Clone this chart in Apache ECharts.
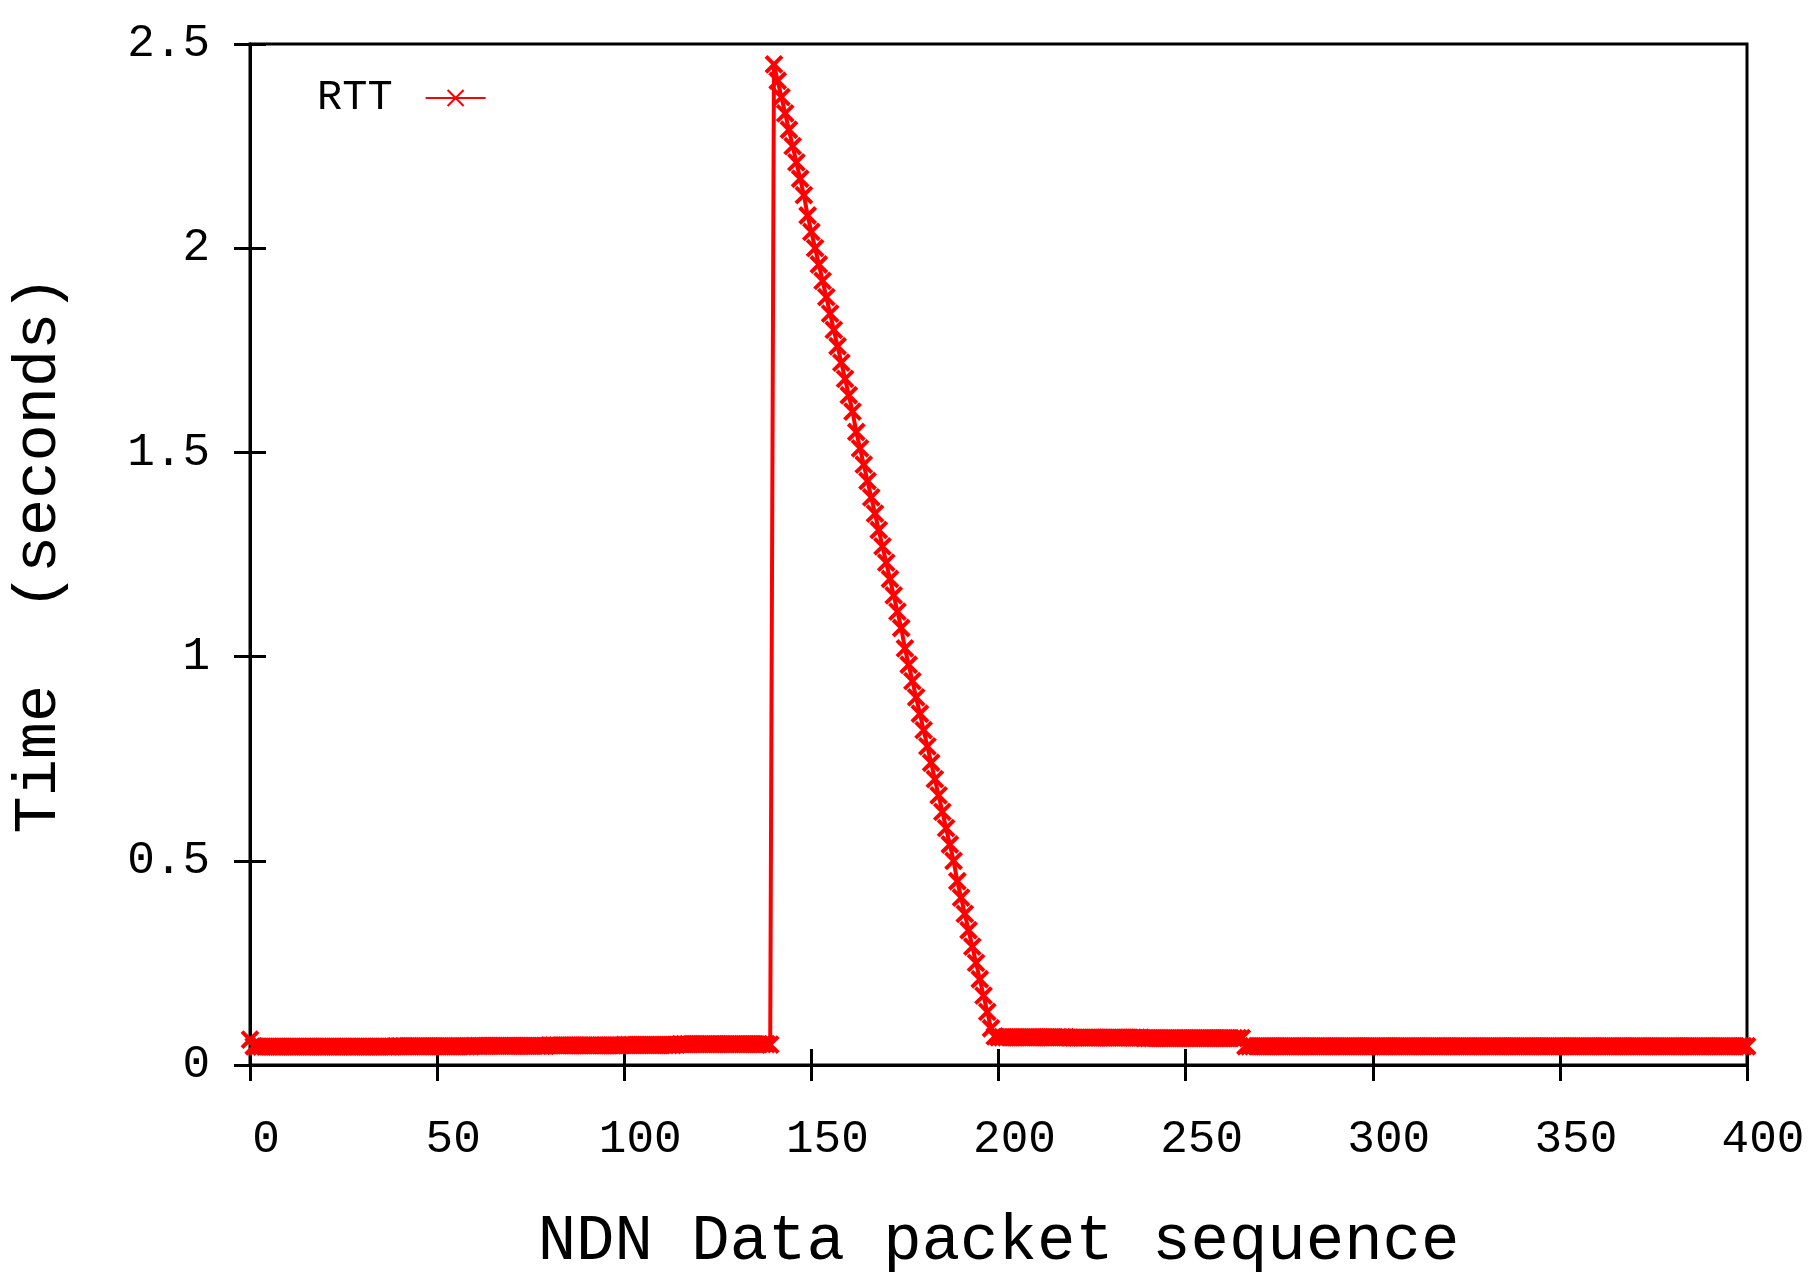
<!DOCTYPE html>
<html><head><meta charset="utf-8">
<script src="https://cdn.jsdelivr.net/npm/echarts@6/dist/echarts.min.js"></script>
<style>html,body{margin:0;background:#fff}#c{width:1815px;height:1280px}</style>
</head><body><div id="c"></div>
<script>
// RTT values (seconds), packet sequence 0..139
const rttBefore = [0.062,0.046,0.045,0.045,0.045,0.045,0.045,0.045,0.045,0.045,
0.045,0.045,0.045,0.045,0.045,0.045,0.045,0.045,0.045,0.045,
0.045,0.045,0.045,0.045,0.045,0.045,0.045,0.045,0.045,0.045,
0.045,0.045,0.045,0.045,0.045,0.045,0.045,0.045,0.045,0.046,
0.046,0.046,0.046,0.046,0.046,0.046,0.046,0.046,0.046,0.046,
0.046,0.046,0.046,0.046,0.046,0.046,0.046,0.046,0.046,0.046,
0.047,0.047,0.047,0.047,0.047,0.047,0.047,0.047,0.047,0.047,
0.047,0.047,0.047,0.047,0.047,0.047,0.047,0.047,0.047,0.047,
0.048,0.048,0.048,0.048,0.048,0.048,0.048,0.048,0.048,0.048,
0.048,0.048,0.048,0.048,0.048,0.048,0.048,0.048,0.048,0.048,
0.049,0.049,0.049,0.049,0.049,0.049,0.049,0.049,0.049,0.049,
0.049,0.049,0.049,0.049,0.050,0.051,0.051,0.051,0.051,0.051,
0.051,0.051,0.051,0.051,0.051,0.051,0.051,0.051,0.051,0.051,
0.051,0.051,0.051,0.051,0.051,0.051,0.051,0.051,0.051,0.050];
// packet sequence 140..198
const rttSpike = [2.45,2.41,2.37,2.33,2.29,2.25,2.21,2.17,2.13,2.08,2.04,2.00,1.96,1.92,1.88,1.84,1.80,1.76,1.72,1.68,
1.64,1.60,1.55,1.51,1.47,1.43,1.39,1.35,1.31,1.27,1.23,1.19,1.15,1.11,1.07,1.02,0.98,0.94,0.90,0.86,
0.82,0.78,0.74,0.70,0.66,0.62,0.58,0.54,0.50,0.45,0.41,0.37,0.33,0.29,0.25,0.21,0.17,0.13,0.09];
// packet sequence 199..265
const rttMid = [0.07,0.068,0.068,0.068,0.068,0.068,0.068,0.068,0.068,0.068,
0.068,0.068,0.068,0.068,0.068,0.068,0.068,0.068,0.068,0.068,
0.067,0.067,0.067,0.067,0.067,0.067,0.067,0.067,0.067,0.067,
0.067,0.067,0.067,0.067,0.067,0.067,0.067,0.067,0.067,0.067,
0.066,0.066,0.066,0.066,0.066,0.066,0.066,0.066,0.066,0.066,
0.066,0.066,0.066,0.066,0.066,0.066,0.066,0.066,0.066,0.066,
0.066,0.066,0.066,0.066,0.066,0.066,0.066];
// packet sequence 266..400
const rttAfter = [0.046,0.046,0.046,0.046,0.046,0.046,0.046,0.046,0.046,0.046,
0.046,0.046,0.046,0.046,0.046,0.046,0.046,0.046,0.046,0.046,
0.046,0.046,0.046,0.046,0.046,0.046,0.046,0.046,0.046,0.046,
0.046,0.046,0.046,0.046,0.046,0.046,0.046,0.046,0.046,0.046,
0.046,0.046,0.046,0.046,0.046,0.046,0.046,0.046,0.046,0.046,
0.046,0.046,0.046,0.046,0.046,0.046,0.046,0.046,0.046,0.046,
0.046,0.046,0.046,0.046,0.046,0.046,0.046,0.046,0.046,0.046,
0.046,0.046,0.046,0.046,0.046,0.046,0.046,0.046,0.046,0.046,
0.046,0.046,0.046,0.046,0.046,0.046,0.046,0.046,0.046,0.046,
0.046,0.046,0.046,0.046,0.046,0.046,0.046,0.046,0.046,0.046,
0.046,0.046,0.046,0.046,0.046,0.046,0.046,0.046,0.046,0.046,
0.046,0.046,0.046,0.046,0.046,0.046,0.046,0.046,0.046,0.046,
0.046,0.046,0.046,0.046,0.046,0.046,0.046,0.046,0.046,0.046,
0.046,0.046,0.046,0.046,0.046];
const xTicks = [0,50,100,150,200,250,300,350,400];
const yTicks = [0,0.5,1,1.5,2,2.5];

const rtt = rttBefore.concat(rttSpike, rttMid, rttAfter);
const data = rtt.map((v, i) => [i, v]);
const font = 'Liberation Mono';
const red = '#ff0000';
const axisBase = {
  axisLine: { show: true, lineStyle: { color: '#000', width: 3 } },
  axisTick: { show: true, inside: true, length: 16, lineStyle: { color: '#000', width: 3 } },
  splitLine: { show: false }
};
const chart = echarts.init(document.getElementById('c'));
chart.setOption({
  backgroundColor: '#fff',
  animation: false,
  grid: { left: 248, right: 68, top: 44, bottom: 215, show: true, borderColor: '#000', borderWidth: 3, backgroundColor: 'transparent' },
  legend: {
    left: 312, top: 72, align: 'right', itemWidth: 60, itemHeight: 20, itemGap: 10,
    textStyle: { fontFamily: font, fontSize: 42, color: '#000', padding: [0, 28, 0, 0] },
    data: [{ name: 'RTT' }]
  },
  xAxis: [
    Object.assign({}, axisBase, {
      type: 'value', min: 0, max: 400, interval: 50,
      name: 'NDN Data packet sequence', nameLocation: 'middle', nameGap: 145,
      nameTextStyle: { fontFamily: font, fontSize: 64, color: '#000' },
      axisLabel: { margin: 52, fontFamily: font, fontSize: 46, color: '#000', padding: [0, 0, 0, 32], showMinLabel: true, showMaxLabel: true,
        formatter: v => xTicks.includes(v) ? String(v) : '' }
    }),
    Object.assign({}, axisBase, { type: 'value', min: 0, max: 400, interval: 50, position: 'top', axisLabel: { show: false } })
  ],
  yAxis: [
    Object.assign({}, axisBase, {
      type: 'value', min: 0, max: 2.5, interval: 0.5,
      name: 'Time  (seconds)', nameLocation: 'middle', nameGap: 180,
      nameTextStyle: { fontFamily: font, fontSize: 62, color: '#000' },
      axisLabel: { margin: 40, fontFamily: font, fontSize: 46, color: '#000',
        formatter: v => yTicks.includes(v) ? String(v) : '' }
    }),
    Object.assign({}, axisBase, { type: 'value', min: 0, max: 2.5, interval: 0.5, position: 'right', axisLabel: { show: false } })
  ],
  series: [{
    name: 'RTT', type: 'line', data: data,
    symbol: 'path://M0,0L10,10M10,0L0,10M0,0L10,10',
    symbolSize: 16, showAllSymbol: true,
    lineStyle: { color: red, width: 4 },
    itemStyle: { color: red, borderColor: red, borderWidth: 4 },
    clip: false
  }]
});
</script></body></html>
